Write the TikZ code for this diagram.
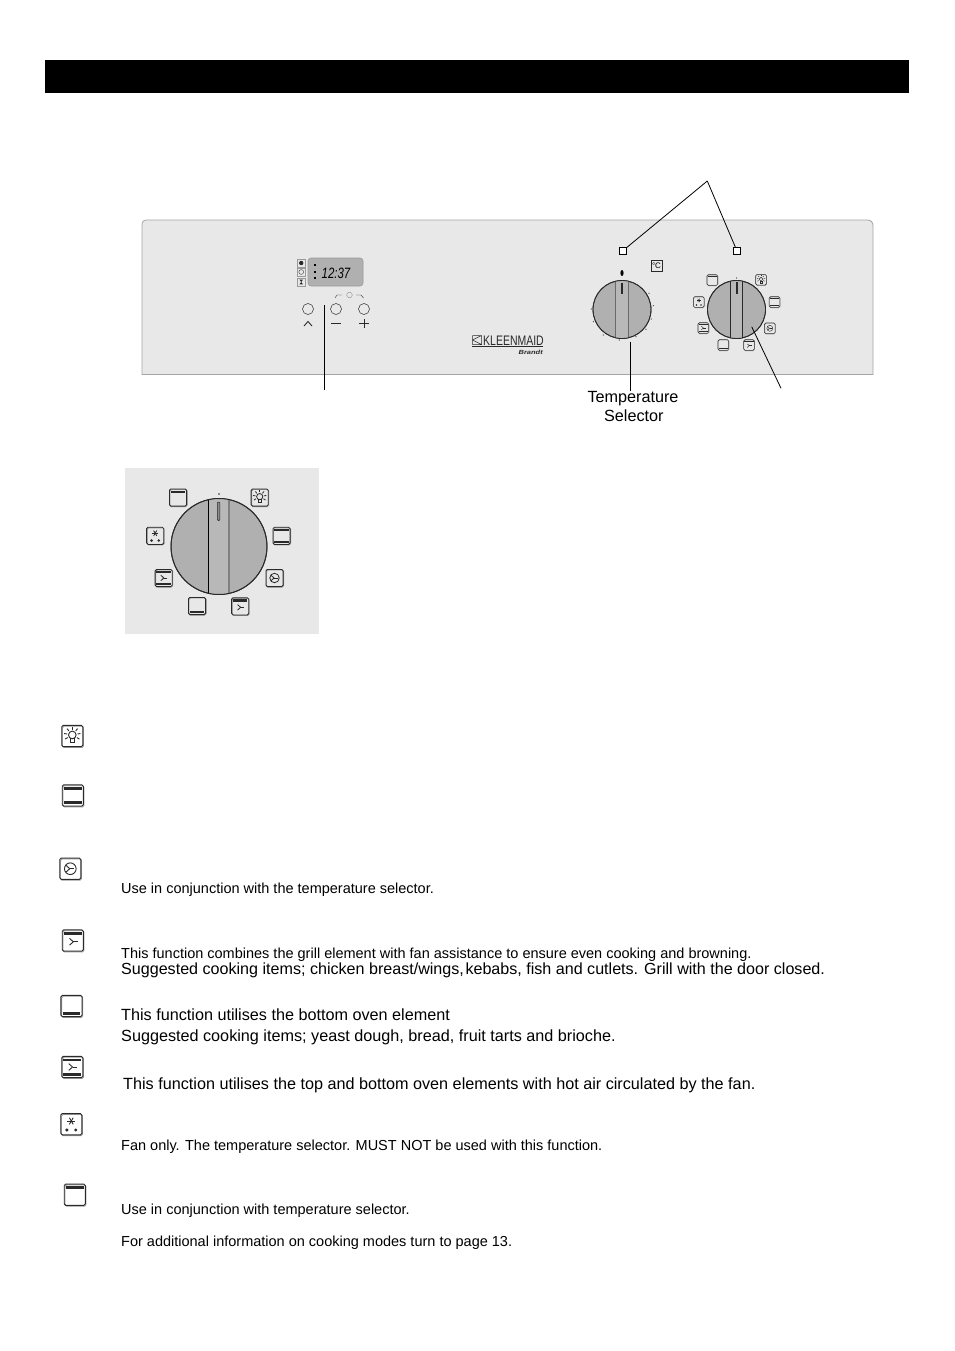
\documentclass[tikz,border=0pt]{standalone}
\usepackage{fontspec}
\setmainfont{Liberation Sans}
\usetikzlibrary{calc}
\definecolor{PanelGrey}{HTML}{E8E8E8}
\definecolor{PanelEdge}{HTML}{A4A4A4}
\definecolor{DialGrey}{HTML}{B0B0B0}
\definecolor{DialBand}{HTML}{B8B8B8}
\definecolor{IconInk}{HTML}{2A2A2A}
\definecolor{IconShade}{HTML}{9A9A9A}
% icon parts, drawn in a box from -1 to 1
\newcommand{\iconframe}{%
  \draw[IconShade,rounded corners=1.5pt] (-.93,-.92) rectangle (1.06,1.08);
  \draw[IconInk,rounded corners=1.5pt] (-1,-1) rectangle (1,1);}
\newcommand{\iconfan}[2]{%
  \draw[IconInk] ($(#1,#2)+(-.36,-.32)$) -- (#1,#2) -- ($(#1,#2)+(-.36,.32)$);
  \draw[IconInk] (#1,#2) -- ($(#1,#2)+(.42,0)$);}
\newcommand{\icontopbar}{\fill[IconInk] (-.84,-.80) rectangle (.84,-.54);}
\newcommand{\iconbottombar}{\fill[IconInk] (-.84,.56) rectangle (.84,.82);}
\tikzset{
  pics/topicon/.style={code={\iconframe\icontopbar}},
  pics/bottomicon/.style={code={\iconframe\iconbottombar}},
  pics/bothicon/.style={code={\iconframe\icontopbar\iconbottombar}},
  pics/fanicon/.style={code={\iconframe
    \draw[IconInk] (0,0) circle (.55);\iconfan{-.05}{0}}},
  pics/topfanicon/.style={code={\iconframe\icontopbar\iconfan{.05}{.12}}},
  pics/bothfanicon/.style={code={\iconframe\icontopbar\iconbottombar\iconfan{.02}{0}}},
  pics/defrosticon/.style={code={\iconframe
    \foreach \a in {0,60,120} \draw[IconInk] (\a:.36)++(0,-.3) -- ($(\a+180:.36)+(0,-.3)$);
    \fill[IconInk] (-.42,.55) circle (.16) (.42,.55) circle (.16);}},
  pics/lampicon/.style={code={\iconframe
    \draw[IconInk] (0,-.1) circle (.36);
    \draw[IconInk] (-.16,.26) rectangle (.16,.62);
    \foreach \a in {-170,-130,-90,-50,-10,30,150}
      \draw[IconInk] ($(0,-.1)+(\a:.5)$) -- ($(0,-.1)+(\a:.78)$);}},
}
\begin{document}
\begin{tikzpicture}[x=1pt,y=-1pt]
  \tikzset{
    listtext/.style={anchor=base west,inner sep=0pt,font=\fontsize{14.5}{16}\selectfont},
    bodytext/.style={anchor=base west,inner sep=0pt,font=\fontsize{16.2}{18}\selectfont},
    calloutline/.style={draw=black,line width=.8pt},
    dial/.style={circle,draw=IconInk,fill=DialGrey,line width=.8pt,inner sep=0pt},
    marker/.style={draw=black,fill=white,line width=.8pt,minimum size=7pt,inner sep=0pt},
    pushbutton/.style={circle,draw=IconInk,line width=.5pt,minimum size=11pt,inner sep=0pt},
    smallicon/.style={scale=5.4,line width=.45pt},
    midicon/.style={scale=8.6,line width=.8pt},
    listicon/.style={scale=10.6,line width=.9pt},
  }
  \useasboundingbox (0,0) rectangle (954,1351);
  \fill[black] (45,60) rectangle (909,93);

  % control panel
  \draw[PanelEdge,fill=PanelGrey,line width=.8pt]
    (142,374.5) -- (142,225) .. controls (142,221.5) and (143.5,220) .. (147,220) -- (867,220)
    .. controls (871,220) and (873,222) .. (873,226) -- (873,374.5) -- cycle;
  \draw[PanelEdge,line width=1.2pt] (142,374.5) -- (873,374.5);

  % timer display
  \node[draw=IconShade,fill=DialGrey,rounded corners=3pt,line width=.6pt,
    minimum width=55pt,minimum height=28pt,inner sep=0pt] (display) at (335.5,272) {};
  \node[inner sep=0pt,font=\itshape\fontsize{15}{15}\selectfont] (clocktime) at (336,273)
    {\scalebox{.76}[1]{12:37}};
  \foreach \y in {265,272,278} \fill[black] (313.8,\y-1) rectangle (315.6,\y+1);
  \foreach \y in {263,272,282} \draw[IconShade,fill=PanelGrey,line width=.5pt] (297.5,\y-4) rectangle (305,\y+4);
  \fill[IconInk] (301.2,263) circle (2.2);
  \draw[IconInk,line width=.35pt] (301.2,272) circle (2.4);
  \fill[IconInk] (299.4,279.6) -- (303,279.6) -- (301.2,282) -- (303,284.4) -- (299.4,284.4) -- (301.2,282) -- cycle;

  % push buttons
  \node[pushbutton] (keyup) at (308,309) {};
  \node[pushbutton] (keyminus) at (336,309) {};
  \node[pushbutton] (keyplus) at (364,309) {};
  \draw[IconInk,line width=.9pt] (304,326) -- (308,321.5) -- (312,326);
  \draw[IconInk,line width=.9pt] (331,323.5) -- (341,323.5);
  \draw[IconInk,line width=.9pt] (359,323.5) -- (369,323.5) (364,319) -- (364,328);
  \draw[IconShade,line width=.5pt] (349.5,295) circle (2.8);
  \draw[IconInk,line width=.4pt] (335,298) -- (337,295) -- (342,295) (356,295) -- (361,295) -- (363.5,298);

  % logo
  \draw[IconInk,line width=.5pt] (472.5,335.5) rectangle (481.5,344.5)
    (481.5,335.5) -- (472.5,340) -- (481.5,344.5) (472.5,335.5) -- (472.5,344.5);
  \node[anchor=base west,inner sep=0pt,font=\fontsize{13.8}{14}\selectfont,text=IconInk] (logo) at (483,345) {\scalebox{.76}[1]{KLEENMAID}};
  \draw[IconInk,line width=.7pt] (472,346.7) -- (543,346.7);
  \node[anchor=base east,inner sep=0pt,font=\bfseries\itshape\fontsize{6}{6}\selectfont,text=IconInk] (brand) at (543,354.5) {\scalebox{1.25}[1]{Brandt}};

  % temperature dial
  \node[dial,minimum size=58pt] (tempdial) at (622,309.5) {};
  \fill[DialBand] (615.4,281.4) rectangle (628.4,337.6);
  \draw[IconInk!70,line width=.7pt] (615.4,281.4) -- (615.4,337.6) (628.4,281.4) -- (628.4,337.6);
  \draw[IconInk,line width=.8pt] (622,309.5) circle (29);
  \fill[IconInk] (621,283) rectangle (623,294);
  \fill[black] (622,273) ellipse (1.6 and 3);
  \foreach \x/\y in {591.3/309,593.3/321.7,603.3/335,619.3/340,636/336.7,646/329.3,651.3/319,653.3/305.7,649/293.3}
    \fill[IconInk] (\x,\y) circle (.6);
  \node[draw=IconInk,line width=.5pt,minimum size=11pt,inner sep=0pt,font=\fontsize{8}{8}\selectfont] (degrees) at (656.5,265.5) {°C};

  % function dial
  \node[dial,minimum size=58pt] (funcdial) at (736.5,309.5) {};
  \fill[DialBand] (730,281.4) rectangle (742,337.6);
  \draw[IconInk,line width=.8pt] (730,281.4) -- (730,337.6) (742,281.4) -- (742,337.6);
  \draw[IconInk,line width=.8pt] (736.5,309.5) circle (29);
  \fill[IconInk] (736,282) rectangle (737.6,294);
  \fill[IconInk] (736.5,278) circle (.6);
  \foreach \x/\y/\kind in {712.3/280/topicon,761/279.7/lampicon,774.5/302/bothicon,769.8/328.3/fanicon,
    749/345/topfanicon,723.3/345/bottomicon,703.3/328/bothfanicon,698.7/302/defrosticon}
    \pic[smallicon] at (\x,\y) {\kind};

  % callouts
  \node[marker] (markerA) at (622.5,251) {};
  \node[marker] (markerB) at (737,251) {};
  \coordinate (apex) at (707.3,181);
  \draw[calloutline] (apex) -- (markerA);
  \draw[calloutline] (apex) -- (markerB);
  \coordinate (keystop) at (324,305);
  \coordinate (keyfoot) at (324,390);
  \draw[calloutline] (keystop) -- (keyfoot);
  \coordinate (temptop) at (630,341.7);
  \node[align=center,inner sep=0pt,font=\fontsize{16.2}{19}\selectfont] (templabel) at (633,406.5) {Temperature\\\hspace{1.6pt}Selector};
  \draw[calloutline] (temptop) -- (templabel.north-|temptop);
  \coordinate (functop) at (751.7,326.7);
  \coordinate (funcfoot) at (781,388.3);
  \draw[calloutline] (functop) -- (funcfoot);

  % enlarged function dial
  \fill[PanelGrey] (125,468) rectangle (319,634);
  \node[dial,minimum size=96pt] (bigdial) at (219,546.5) {};
  \fill[DialBand] (208.7,499) rectangle (229,594);
  \draw[black,line width=1pt] (208.7,499) -- (208.7,594);
  \draw[IconInk!60,line width=1.2pt] (229,499) -- (229,594);
  \draw[IconInk,line width=1pt] (219,546.5) circle (48);
  \draw[IconInk,fill=IconInk!55,line width=.5pt,rounded corners=.8pt] (217.4,502) rectangle (219.8,520.5);
  \fill[IconInk] (219,494) circle (.8);
  \foreach \x/\y/\kind in {178/497.5/topicon,259.7/497.5/lampicon,281.5/535.8/bothicon,274.5/578/fanicon,
    240.2/606.3/topfanicon,197/606/bottomicon,163.7/578/bothfanicon,155.2/535.8/defrosticon}
    \pic[midicon] at (\x,\y) {\kind};

  % function list
  \foreach \x/\y/\kind in {72.3/736/lampicon,72.8/795.5/bothicon,70.3/868.7/fanicon,72.8/940.5/topfanicon,
    71.5/1006/bottomicon,72.3/1067/bothfanicon,71.3/1124.2/defrosticon,74.8/1194.7/topicon}
    \pic[listicon] at (\x,\y) {\kind};
  \node[listtext] (fannote) at (121,893) {Use in conjunction with the temperature selector.};
  \node[listtext] (grillnote) at (121,958) {This function combines the grill element with fan assistance to ensure even cooking and browning.};
  \node[bodytext,font=\fontsize{16.1}{18}\selectfont] (grillitems) at (121,974) {Suggested cooking items; chicken breast/wings,\hspace{.1em}kebabs, fish and cutlets. Grill with the door closed.};
  \node[bodytext] (bottomnote) at (121,1020) {This function utilises the bottom oven element};
  \node[bodytext] (bottomitems) at (121,1041) {Suggested cooking items; yeast dough, bread, fruit tarts and brioche.};
  \node[bodytext] (bothnote) at (123,1089) {This function utilises the top and bottom oven elements with hot air circulated by the fan.};
  \node[listtext] (defrostnote) at (121,1150) {Fan only. The temperature selector. MUST NOT be used with this function.};
  \node[listtext] (topnote) at (121,1214) {Use in conjunction with temperature selector.};
  \node[listtext] (pagenote) at (121,1246) {For additional information on cooking modes turn to page 13.};
\end{tikzpicture}
\end{document}
